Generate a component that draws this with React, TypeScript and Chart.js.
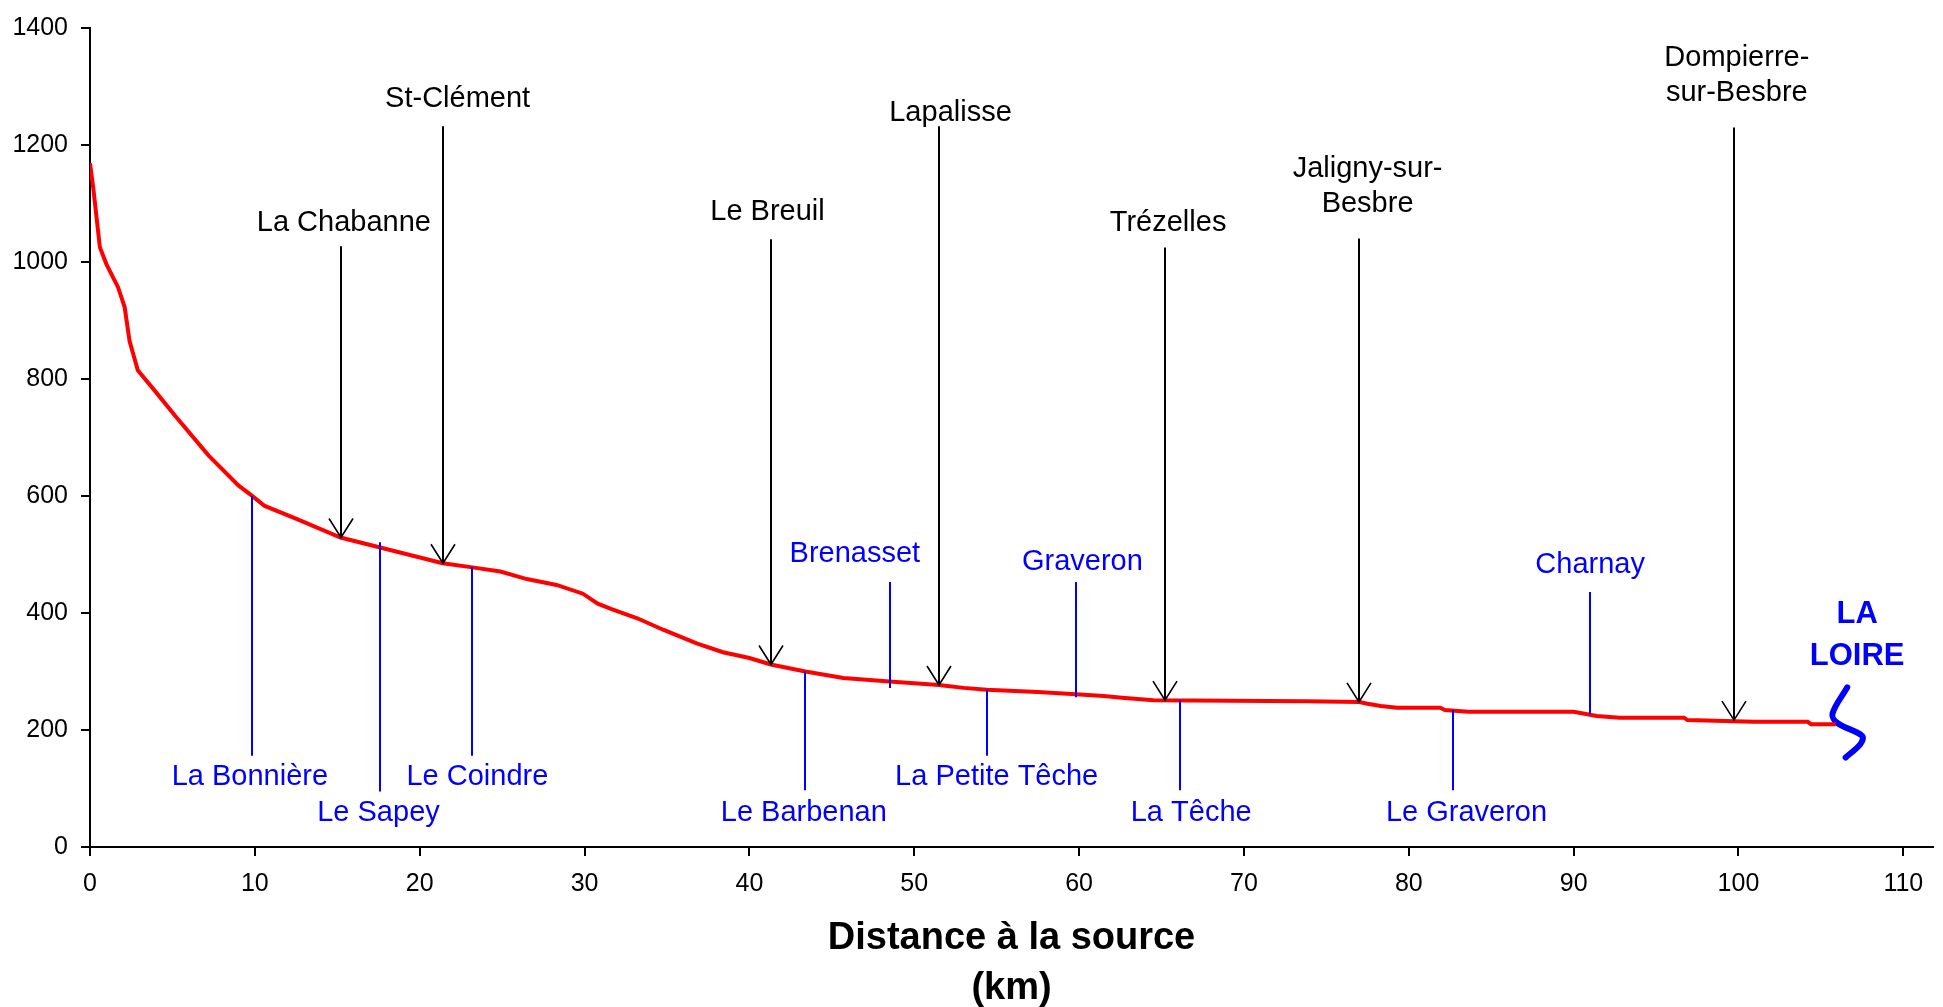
import React, { useEffect, useRef } from 'react';
import { Chart, registerables } from 'chart.js';

Chart.register(...registerables);

// River profile (distance from source in km, elevation in m)
const profileKm = [
  0, 0.2, 0.6, 1.0, 1.7, 2.1, 2.4, 2.9, 3.9, 5.2, 7.2, 9.0, 9.8, 10.6, 12.6, 15.2, 17.6, 21.4, 23.2,
  24.9, 26.5, 28.3, 29.9, 30.8, 31.6, 33.2, 34.8, 36.8, 38.4, 40.0, 41.3, 43.4, 45.7, 48.5, 51.5,
  53.0, 54.4, 57.5, 59.8, 61.5, 62.6, 64.5, 73.8, 77.0, 77.5, 78.3, 79.3, 81.9, 82.2, 83.6, 90.0,
  91.4, 92.8, 96.7, 96.9, 100.9, 104.2, 104.4, 105.9,
];
const profileElev = [
  1169, 1126, 1025, 996, 957, 923, 865, 815, 781, 736, 669, 618, 601, 583, 560, 529, 512, 485, 478,
  471, 458, 448, 433, 416, 407, 391, 371, 348, 333, 323, 312, 300, 289, 283, 277,
  272, 269, 265, 261, 258, 255, 251, 249, 248, 245, 241, 238, 238, 234, 231, 231,
  224, 221, 221, 217, 214, 214, 210, 210,
];

// The Loire squiggle at the confluence
const loireKm = [106.6, 105.7, 106.0, 107.5, 107.4, 106.5];
const loireElev = [273, 228, 212, 190, 176, 153];
const loireLabel = ['LA', 'LOIRE'];
const loireLabelKm = 107.2;
const loireLabelElev = 398;

const xTicks = [0, 10, 20, 30, 40, 50, 60, 70, 80, 90, 100, 110];
const yTicks = [0, 200, 400, 600, 800, 1000, 1200, 1400];

// Towns (black arrows)
const townNames = [
  ['La Chabanne'],
  ['St-Clément'],
  ['Le Breuil'],
  ['Lapalisse'],
  ['Trézelles'],
  ['Jaligny-sur-', 'Besbre'],
  ['Dompierre-', 'sur-Besbre'],
];
const townKm = [15.2, 21.4, 41.3, 51.5, 65.2, 77.0, 99.7];
const townTipElev = [529, 485, 312, 277, 251, 248, 217];
const townTopElev = [1027, 1232, 1039, 1232, 1025, 1040, 1230];
const townLabelKm = [15.4, 22.3, 41.1, 52.2, 65.4, 77.5, 99.9];
const townLabelElev = [1066, 1278, 1086, 1254, 1066, 1159, 1349];

// Hamlets (blue lines)
const placeNames = [
  'La Bonnière', 'Le Sapey', 'Le Coindre', 'Le Barbenan', 'Brenasset',
  'La Petite Têche', 'Graveron', 'La Têche', 'Le Graveron', 'Charnay',
];
const placeKm = [9.8, 17.6, 23.2, 43.4, 48.5, 54.4, 59.8, 66.1, 82.7, 91.0];
const placeTopElev = [600, 521, 478, 300, 453, 269, 453, 251, 234, 436];
const placeBottomElev = [156, 95, 156, 97, 272, 156, 256, 97, 97, 227];
const placeLabelKm = [9.7, 17.5, 23.5, 43.3, 46.4, 55.0, 60.2, 66.8, 83.5, 91.0];
const placeLabelElev = [120, 58, 120, 58, 501, 119, 487, 58, 58, 482];

const FONT = '"Liberation Sans", Arial, sans-serif';

const annotationPlugin = {
  id: 'profileAnnotations',
  afterDatasetsDraw(chart: any) {
    const { ctx, scales } = chart;
    const x = scales.x;
    const y = scales.y;
    ctx.save();
    ctx.lineCap = 'butt';
    ctx.textAlign = 'center';
    ctx.textBaseline = 'middle';

    // blue hamlet markers
    ctx.strokeStyle = '#0000FF';
    ctx.fillStyle = '#0000FF';
    ctx.lineWidth = 2;
    ctx.font = `29px ${FONT}`;
    placeKm.forEach((km, i) => {
      const px = Math.round(x.getPixelForValue(km));
      ctx.beginPath();
      ctx.moveTo(px, y.getPixelForValue(placeTopElev[i]));
      ctx.lineTo(px, y.getPixelForValue(placeBottomElev[i]));
      ctx.stroke();
      ctx.fillText(placeNames[i], x.getPixelForValue(placeLabelKm[i]), y.getPixelForValue(placeLabelElev[i]));
    });

    // black town arrows
    ctx.strokeStyle = '#000';
    ctx.fillStyle = '#000';
    townKm.forEach((km, i) => {
      const px = Math.round(x.getPixelForValue(km));
      const tip = y.getPixelForValue(townTipElev[i]);
      ctx.lineWidth = 2;
      ctx.beginPath();
      ctx.moveTo(px, y.getPixelForValue(townTopElev[i]));
      ctx.lineTo(px, tip);
      ctx.stroke();
      ctx.lineWidth = 1.6;
      ctx.beginPath();
      ctx.moveTo(px - 12, tip - 19);
      ctx.lineTo(px, tip);
      ctx.lineTo(px + 12, tip - 19);
      ctx.stroke();
      const lx = x.getPixelForValue(townLabelKm[i]);
      const ly = y.getPixelForValue(townLabelElev[i]);
      townNames[i].forEach((line, j) => {
        ctx.fillText(line, lx, ly + j * 35);
      });
    });

    // LA LOIRE
    ctx.fillStyle = '#0000FF';
    ctx.font = `bold 31px ${FONT}`;
    const lx = x.getPixelForValue(loireLabelKm);
    const ly = y.getPixelForValue(loireLabelElev);
    loireLabel.forEach((line, j) => ctx.fillText(line, lx, ly + j * 42));
    ctx.restore();
  },
};

export default function App() {
  const canvasRef = useRef<HTMLCanvasElement | null>(null);

  useEffect(() => {
    if (!canvasRef.current) return;
    Chart.defaults.font.family = FONT;
    const chart = new Chart(canvasRef.current, {
      type: 'line',
      data: {
        datasets: [
          {
            data: profileKm.map((km, i) => ({ x: km, y: profileElev[i] })),
            borderColor: '#FF0000',
            borderWidth: 4,
            pointRadius: 0,
            tension: 0,
            fill: false,
          },
          {
            data: loireKm.map((km, i) => ({ x: km, y: loireElev[i] })),
            borderColor: '#0000FF',
            borderWidth: 6,
            pointRadius: 0,
            tension: 0.35,
            fill: false,
            borderCapStyle: 'round',
            borderJoinStyle: 'round',
          },
        ],
      },
      options: {
        animation: false,
        responsive: false,
        events: [],
        layout: { padding: { top: 22, right: 10, bottom: 0, left: 0 } },
        plugins: {
          legend: { display: false },
          tooltip: { enabled: false },
        },
        scales: {
          x: {
            type: 'linear',
            min: 0,
            max: 111.8,
            afterBuildTicks: (s: any) => {
              s.ticks = xTicks.map((v) => ({ value: v }));
            },
            afterFit: (s: any) => {
              s.height = 160;
            },
            grid: { drawOnChartArea: false, drawTicks: true, tickLength: 9, color: '#000', lineWidth: 2 },
            border: { display: true, color: '#000', width: 2 },
            ticks: {
              color: '#000',
              font: { size: 25 },
              padding: 13,
              maxRotation: 0,
              autoSkip: false,
              callback: (v: any) => String(v),
            },
            title: {
              display: true,
              text: ['Distance à la source', '(km)'],
              color: '#000',
              font: { size: 38, weight: 'bold', lineHeight: 1.3 },
              padding: { top: 0, bottom: -6 },
            },
          },
          y: {
            type: 'linear',
            min: 0,
            max: 1400,
            afterBuildTicks: (s: any) => {
              s.ticks = yTicks.map((v) => ({ value: v }));
            },
            afterFit: (s: any) => {
              s.width = 90;
            },
            grid: { drawOnChartArea: false, drawTicks: true, tickLength: 9, color: '#000', lineWidth: 2 },
            border: { display: true, color: '#000', width: 2 },
            ticks: {
              color: '#000',
              font: { size: 25 },
              padding: 13,
              autoSkip: false,
              callback: (v: any) => String(v),
            },
          },
        },
      } as any,
      plugins: [annotationPlugin],
    });
    return () => chart.destroy();
  }, []);

  return (
    <div style={{ position: 'fixed', left: 0, top: 0, width: 1943, height: 1007, background: '#fff' }}>
      <canvas ref={canvasRef} width={1943} height={1007} style={{ display: 'block' }} />
    </div>
  );
}
